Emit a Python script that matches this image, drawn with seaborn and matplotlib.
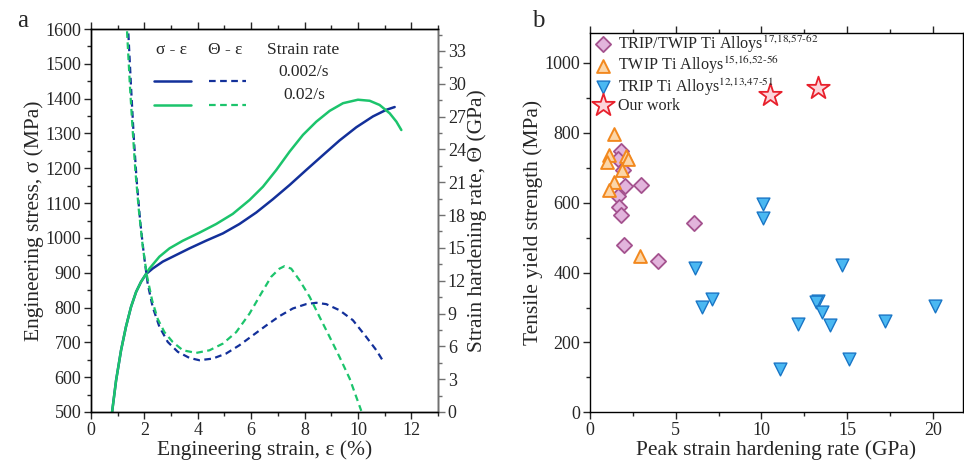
import numpy as np
import pandas as pd
import seaborn as sns
import matplotlib.pyplot as plt
from matplotlib.ticker import MultipleLocator
from matplotlib.lines import Line2D

# ---- panel a: stress-strain (left axis) ----
strain_s1 = [0.79, 0.94, 1.125, 1.31, 1.5, 1.69, 1.875, 2.06, 2.31, 2.69, 3.19, 3.69, 4.31,
             4.94, 5.56, 6.19, 6.81, 7.44, 8.06, 8.69, 9.31, 9.94, 10.56, 11.06, 11.375]
stress_s1 = [500, 591, 677, 745, 802, 845, 874, 896, 912, 932, 951, 970, 992,
             1013, 1040, 1073, 1111, 1152, 1195, 1238, 1280, 1318, 1349, 1368, 1376]

strain_s2 = [0.79, 0.94, 1.125, 1.31, 1.5, 1.69, 1.875, 2.19, 2.56, 2.94, 3.44, 4.06, 4.69,
             5.31, 5.94, 6.44, 6.94, 7.44, 7.94, 8.44, 8.94, 9.44, 10.0, 10.44, 10.81,
             11.19, 11.44, 11.625]
stress_s2 = [500, 591, 677, 745, 802, 845, 874, 912, 946, 970, 992, 1015, 1040,
             1069, 1109, 1147, 1195, 1248, 1296, 1334, 1365, 1387, 1397, 1394, 1382,
             1358, 1334, 1310]

# ---- panel a: strain hardening rate (right axis) ----
strain_h1 = [1.4, 1.5, 1.6, 1.71, 1.84, 1.975, 2.125, 2.31, 2.56, 2.875, 3.25, 3.69, 4.06,
             4.56, 5.06, 5.56, 6.06, 6.56, 7.06, 7.56, 8.06, 8.44, 8.81, 9.31, 9.81,
             10.31, 10.69, 10.96]
theta_h1 = [34.6, 29.7, 25.2, 21.2, 17.5, 14.5, 11.7, 9.6, 7.8, 6.4, 5.5, 4.94, 4.73,
            4.88, 5.34, 6.1, 7.0, 7.9, 8.76, 9.46, 9.86, 9.98, 9.86, 9.3, 8.39,
            6.86, 5.64, 4.58]

strain_h2 = [1.35, 1.46, 1.56, 1.66, 1.79, 1.94, 2.1, 2.29, 2.5, 2.75, 3.06, 3.44, 3.94,
             4.44, 4.94, 5.44, 5.94, 6.375, 6.75, 7.06, 7.25, 7.5, 7.81, 8.19, 8.56,
             8.94, 9.31, 9.69, 10.125]
theta_h2 = [34.8, 29.7, 25.8, 22.1, 18.5, 15.1, 12.4, 10.2, 8.5, 7.3, 6.4, 5.64, 5.4,
            5.64, 6.25, 7.3, 9.0, 10.83, 12.36, 13.1, 13.33, 13.1, 12.05, 10.53, 8.7,
            6.86, 5.03, 3.05, 0.1]

# ---- panel b: scatter ----
tt_x = [1.81, 1.61, 1.92, 2.04, 2.97, 1.65, 1.69, 1.81, 6.08, 1.99, 3.98]
tt_y = [748, 724, 693, 647, 652, 620, 588, 566, 543, 478, 432]

twip_x = [1.42, 1.12, 0.99, 2.1, 2.2, 1.85, 1.42, 1.11, 2.91]
twip_y = [798, 738, 717, 735, 725, 693, 660, 636, 447]

trip_x = [10.1, 10.1, 6.12, 14.7, 7.09, 6.51, 13.3, 13.2, 13.5, 20.1, 12.1, 14.0, 17.2, 15.1, 11.1]
trip_y = [595, 555, 412, 423, 323, 302, 319, 315, 287, 304, 252, 249, 260, 154, 123]

ours_x = [10.49, 13.3]
ours_y = [907, 928]

blue = "#13309a"
green = "#1cc46c"

sns.set_theme(style="ticks")
plt.rcParams['font.family'] = ['Liberation Serif', 'DejaVu Serif']
plt.rcParams['mathtext.fontset'] = 'stix'
plt.rcParams['xtick.direction'] = 'out'
plt.rcParams['ytick.direction'] = 'out'

fig = plt.figure(figsize=(9.64, 4.71), dpi=100)
ax1 = fig.add_axes([0.0944, 0.1253, 0.36, 0.813])
ax2 = ax1.twinx()
ax3 = fig.add_axes([0.612, 0.1246, 0.387, 0.8047])

tick_fs = 13
lab_fs = 15.5

# panel a curves
sns.lineplot(x=strain_s1, y=stress_s1, ax=ax1, color=blue, lw=1.8, sort=False, estimator=None)
sns.lineplot(x=strain_s2, y=stress_s2, ax=ax1, color=green, lw=1.8, sort=False, estimator=None)
sns.lineplot(x=strain_h1, y=theta_h1, ax=ax2, color=blue, lw=1.6, sort=False, estimator=None,
             linestyle=(0, (3, 2)))
sns.lineplot(x=strain_h2, y=theta_h2, ax=ax2, color=green, lw=1.6, sort=False, estimator=None,
             linestyle=(0, (3, 2)))

ax1.set_xlim(0, 13)
ax1.set_ylim(500, 1600)
ax2.set_ylim(0, 35)
ax1.xaxis.set_major_locator(MultipleLocator(2))
ax1.xaxis.set_minor_locator(MultipleLocator(1))
ax1.yaxis.set_major_locator(MultipleLocator(100))
ax1.yaxis.set_minor_locator(MultipleLocator(50))
ax2.yaxis.set_major_locator(MultipleLocator(3))
ax2.yaxis.set_minor_locator(MultipleLocator(1.5))

for a in (ax1, ax2, ax3):
    for s in a.spines.values():
        s.set_visible(True)
        s.set_linewidth(1.0)
        s.set_color("black")
ax2.spines['right'].set_color("#707070")

ax1.tick_params(which='both', top=True, labeltop=False, labelsize=tick_fs, width=1.0, pad=2)
ax1.tick_params(which='major', length=5)
ax1.tick_params(which='minor', length=3)
ax2.tick_params(which='both', labelsize=tick_fs, width=1.0, color="#707070", pad=2)
ax2.tick_params(which='major', length=5)
ax2.tick_params(which='minor', length=3)

ax1.set_xlabel("Engineering strain, ε (%)", fontsize=lab_fs, labelpad=1)
ax1.set_ylabel("Engineering stress, σ (MPa)", fontsize=lab_fs, labelpad=1)
ax2.set_ylabel("Strain hardening rate, Θ (GPa)", fontsize=lab_fs, labelpad=1)

# custom legend for panel a
handles = [Line2D([], [], color=blue, lw=1.8), Line2D([], [], color=green, lw=1.8),
           Line2D([], [], color=blue, lw=1.6, linestyle=(0, (3, 2))),
           Line2D([], [], color=green, lw=1.6, linestyle=(0, (3, 2)))]
ax2.legend(handles, ['', '', '', ''], ncol=2, frameon=False, fontsize=12,
           loc='upper left', bbox_to_anchor=(0.143, 0.915), handlelength=2.2,
           handletextpad=0.0, columnspacing=1.1, labelspacing=0.45, borderpad=0.3)
leg_fs = 12.5
ax2.text(0.233, 0.945, "σ - ε", transform=ax2.transAxes, ha='center', va='center', fontsize=leg_fs)
ax2.text(0.386, 0.945, "Θ - ε", transform=ax2.transAxes, ha='center', va='center', fontsize=leg_fs)
ax2.text(0.611, 0.945, "Strain rate", transform=ax2.transAxes, ha='center', va='center', fontsize=leg_fs)
ax2.text(0.614, 0.889, "0.002/s", transform=ax2.transAxes, ha='center', va='center', fontsize=leg_fs)
ax2.text(0.614, 0.828, "0.02/s", transform=ax2.transAxes, ha='center', va='center', fontsize=leg_fs)

# panel b scatter
sns.scatterplot(x=tt_x, y=tt_y, ax=ax3, marker='D', s=60, color="#e2b4dc", edgecolor="#a4528e",
                linewidth=1.3, label=r"TRIP/TWIP Ti Alloys$^{17{,}18{,}57\text{-}62}$", zorder=3)
sns.scatterplot(x=twip_x, y=twip_y, ax=ax3, marker='^', s=85, color="#fcd6a8", edgecolor="#f2881e",
                linewidth=1.4, label=r"TWIP Ti Alloys$^{15{,}16{,}52\text{-}56}$", zorder=3)
sns.scatterplot(x=trip_x, y=trip_y, ax=ax3, marker='v', s=85, color="#4ab8f2", edgecolor="#1a76c6",
                linewidth=1.0, label=r"TRIP Ti Alloys$^{12{,}13{,}47\text{-}51}$", zorder=3)
sns.scatterplot(x=ours_x, y=ours_y, ax=ax3, marker='*', s=290, color="#fcd4da", edgecolor="#e8202c",
                linewidth=1.3, label="Our work", zorder=4)

ax3.set_xlim(0, 21.75)
ax3.set_ylim(0, 1085)
ax3.xaxis.set_major_locator(MultipleLocator(5))
ax3.xaxis.set_minor_locator(MultipleLocator(2.5))
ax3.yaxis.set_major_locator(MultipleLocator(200))
ax3.yaxis.set_minor_locator(MultipleLocator(100))
ax3.tick_params(which='both', top=True, right=True, labelsize=tick_fs, width=1.0, pad=2)
ax3.tick_params(which='major', length=5)
ax3.tick_params(which='minor', length=3)
ax3.set_xlabel("Peak strain hardening rate (GPa)", fontsize=lab_fs, labelpad=1)
ax3.set_ylabel("Tensile yield strength (MPa)", fontsize=lab_fs, labelpad=1)
ax3.legend(loc='upper left', bbox_to_anchor=(0.008, 1.0), frameon=False, fontsize=11.6,
           borderaxespad=0.0, handletextpad=0.35, labelspacing=0.0, borderpad=0.0,
           handlelength=1.2)

fig.text(0.023, 0.955, "a", fontsize=18, ha='center', va='center')
fig.text(0.558, 0.955, "b", fontsize=18, ha='center', va='center')

fig.savefig("out.png", dpi=100)
